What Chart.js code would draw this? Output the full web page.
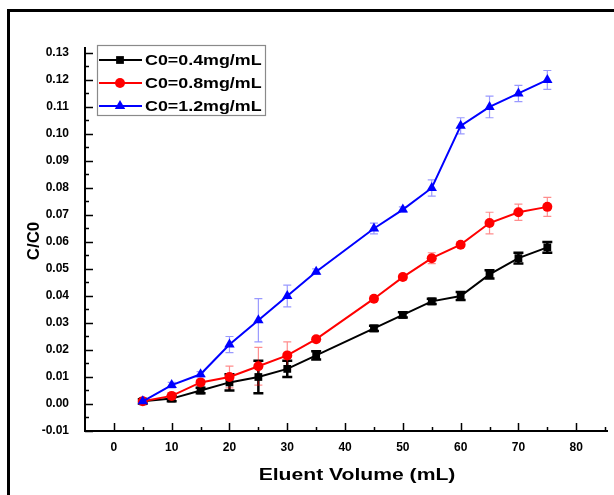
<!DOCTYPE html>
<html>
<head>
<meta charset="utf-8">
<script src="https://cdn.jsdelivr.net/npm/chart.js@4.4.0/dist/chart.umd.min.js"></script>
<style>
  html, body { margin: 0; padding: 0; background: #fff; }
  #wrap { position: relative; width: 614px; height: 495px; overflow: hidden; }
  #frame { position: absolute; left: 7px; top: 9px; width: 700px; height: 600px; border: 3px solid #000; box-sizing: border-box; }
  canvas { position: absolute; left: 0; top: 0; }
</style>
</head>
<body>
<div id="wrap">
  <div id="frame"></div>
  <canvas id="grafico" width="614" height="495"></canvas>
</div>
<script>
// volumen de eluente (mL)
var volumen = [5, 10, 15, 20, 25, 30, 35, 45, 50, 55, 60, 65, 70, 75];

// C/C0 para cada concentracion inicial
var c04 = [0.001, 0.002, 0.005, 0.008, 0.010, 0.013, 0.018, 0.028, 0.033, 0.038, 0.040, 0.048, 0.054, 0.058];
var c08 = [0.001, 0.003, 0.008, 0.010, 0.014, 0.018, 0.024, 0.039, 0.047, 0.054, 0.059, 0.067, 0.071, 0.073];
var c12 = [0.001, 0.007, 0.011, 0.022, 0.031, 0.040, 0.049, 0.065, 0.072, 0.080, 0.103, 0.110, 0.115, 0.120];

// barras de error (+/-)
var err04 = [0.0008, 0.001, 0.001, 0.003, 0.006, 0.003, 0.0015, 0.001, 0.001, 0.001, 0.0015, 0.0015, 0.002, 0.002];
var err08 = [0.0005, 0.001, 0.001, 0.004, 0.007, 0.005, 0.001, 0.001, 0.001, 0.002, 0.001, 0.004, 0.003, 0.0035];
var err12 = [0.0005, 0.001, 0.001, 0.003, 0.008, 0.004, 0.001, 0.002, 0.001, 0.003, 0.003, 0.004, 0.003, 0.0035];

var etiquetas = ["C0=0.4mg/mL", "C0=0.8mg/mL", "C0=1.2mg/mL"];
var ticksX = [0, 10, 20, 30, 40, 50, 60, 70, 80];
var ticksY = [-0.01, 0.00, 0.01, 0.02, 0.03, 0.04, 0.05, 0.06, 0.07, 0.08, 0.09, 0.10, 0.11, 0.12, 0.13];

var colores = ["#000000", "#ff0000", "#0000ff"];
var coloresError = ["#000000", "rgba(255,0,0,0.45)", "rgba(0,0,255,0.4)"];
var marcadores = ["rect", "circle", "triangle"];

var xMin = -5, xMax = 85.5, yMin = -0.01, yMax = 0.1322;

function puntos(ys) {
  return volumen.map(function (v, i) { return { x: v, y: ys[i] }; });
}

var series = [c04, c08, c12];
var errores = [err04, err08, err12];

var datasets = series.map(function (s, i) {
  return {
    label: etiquetas[i],
    data: puntos(s),
    borderColor: colores[i],
    backgroundColor: colores[i],
    borderWidth: 2,
    pointStyle: marcadores[i],
    pointRadius: i == 0 ? 5.5 : (i == 1 ? 5 : 6),
    pointBorderWidth: 0,
    order: 2 - i,
    errores: errores[i],
    colorError: coloresError[i]
  };
});

var fuente = "'Liberation Sans', Arial, sans-serif";

// texto estirado en horizontal (la fuente original es mas ancha)
function textoAncho(ctx, txt, x, y, estirar, alinear) {
  ctx.save();
  var w = ctx.measureText(txt).width * estirar;
  var x0 = alinear == "center" ? x - w / 2 : x;
  ctx.translate(x0, y);
  ctx.scale(estirar, 1);
  ctx.textAlign = "left";
  ctx.fillText(txt, 0, 0);
  ctx.restore();
}

// barras de error
var pluginErrores = {
  id: "errores",
  beforeDatasetsDraw: function (chart) {
    var ctx = chart.ctx, sx = chart.scales.x, sy = chart.scales.y;
    chart.data.datasets.forEach(function (ds) {
      ctx.save();
      ctx.strokeStyle = ds.colorError;
      var negro = ds.colorError == "#000000";
      ctx.lineWidth = negro ? 2.5 : 1.2;
      var cap = negro ? 5 : 4;
      ds.data.forEach(function (p, j) {
        var e = ds.errores[j];
        var px = sx.getPixelForValue(p.x);
        var y1 = sy.getPixelForValue(p.y + e), y2 = sy.getPixelForValue(p.y - e);
        ctx.beginPath();
        ctx.moveTo(px, y1); ctx.lineTo(px, y2);
        ctx.moveTo(px - cap, y1); ctx.lineTo(px + cap, y1);
        ctx.moveTo(px - cap, y2); ctx.lineTo(px + cap, y2);
        ctx.stroke();
      });
      ctx.restore();
    });
  }
};

// ejes con marcas hacia adentro, titulos y leyenda
var pluginEjes = {
  id: "ejes",
  afterDraw: function (chart) {
    var ctx = chart.ctx, sx = chart.scales.x, sy = chart.scales.y;
    var a = chart.chartArea;
    ctx.save();
    ctx.strokeStyle = "#000";
    ctx.lineWidth = 2;
    ctx.beginPath();
    ctx.moveTo(a.left, a.top); ctx.lineTo(a.left, a.bottom); ctx.lineTo(a.right, a.bottom);
    ctx.stroke();
    ctx.lineWidth = 1.5;
    ctx.beginPath();
    for (var v = 0; v <= 85; v += 5) {
      var px = Math.round(sx.getPixelForValue(v)) + 0.5;
      var l = (v % 10 == 0) ? 8 : 4;
      ctx.moveTo(px, a.bottom); ctx.lineTo(px, a.bottom - l);
    }
    for (var k = -10; k <= 130; k += 5) {
      var py = Math.round(sy.getPixelForValue(k / 1000)) + 0.5;
      var l2 = (k % 10 == 0) ? 8 : 4;
      ctx.moveTo(a.left, py); ctx.lineTo(a.left + l2, py);
    }
    ctx.stroke();

    ctx.fillStyle = "#000";
    ctx.textBaseline = "middle";

    // titulo eje X
    ctx.font = "bold 16px " + fuente;
    textoAncho(ctx, "Eluent Volume (mL)", 357, 476, 1.32, "center");

    // titulo eje Y
    ctx.save();
    ctx.translate(35, 241);
    ctx.rotate(-Math.PI / 2);
    textoAncho(ctx, "C/C0", 0, 0, 1.05, "center");
    ctx.restore();
    ctx.restore();

    // leyenda
    ctx.save();
    ctx.fillStyle = "#fff";
    ctx.fillRect(97, 45, 168, 70);
    ctx.strokeStyle = "#8a8a8a";
    ctx.lineWidth = 1.2;
    ctx.strokeRect(97.5, 45.5, 168, 70);
    ctx.font = "bold 15px " + fuente;
    ctx.textBaseline = "middle";
    chart.data.datasets.forEach(function (ds, i) {
      var y = 60 + i * 23;
      ctx.strokeStyle = ds.borderColor;
      ctx.lineWidth = 2;
      ctx.beginPath(); ctx.moveTo(99, y); ctx.lineTo(142, y); ctx.stroke();
      ctx.fillStyle = ds.borderColor;
      Chart.helpers.drawPoint(ctx, { pointStyle: ds.pointStyle, radius: ds.pointRadius, borderWidth: 0 }, 120, y);
      ctx.fillStyle = "#000";
      textoAncho(ctx, ds.label, 145, y + 1, 1.19, "left");
    });
    ctx.restore();
  }
};

new Chart(document.getElementById("grafico"), {
  type: "line",
  data: { datasets: datasets },
  options: {
    responsive: false,
    animation: false,
    layout: { padding: { top: 47, right: 2, left: 0, bottom: 0 } },
    plugins: { legend: { display: false }, tooltip: { enabled: false } },
    scales: {
      x: {
        type: "linear",
        min: xMin, max: xMax,
        afterBuildTicks: function (s) { s.ticks = ticksX.map(function (v) { return { value: v }; }); },
        afterFit: function (s) { s.height = 64; },
        grid: { display: false, drawTicks: false },
        border: { display: false },
        ticks: { color: "#000", font: { family: fuente, size: 12, weight: "bold" }, padding: 9, maxRotation: 0 }
      },
      y: {
        type: "linear",
        min: yMin, max: yMax,
        afterBuildTicks: function (s) { s.ticks = ticksY.map(function (v) { return { value: v }; }); },
        afterFit: function (s) { s.width = 85; },
        grid: { display: false, drawTicks: false },
        border: { display: false },
        ticks: {
          color: "#000", font: { family: fuente, size: 12, weight: "bold" }, padding: 16,
          callback: function (v) { return v.toFixed(2); }
        }
      }
    }
  },
  plugins: [pluginErrores, pluginEjes]
});
</script>
</body>
</html>
